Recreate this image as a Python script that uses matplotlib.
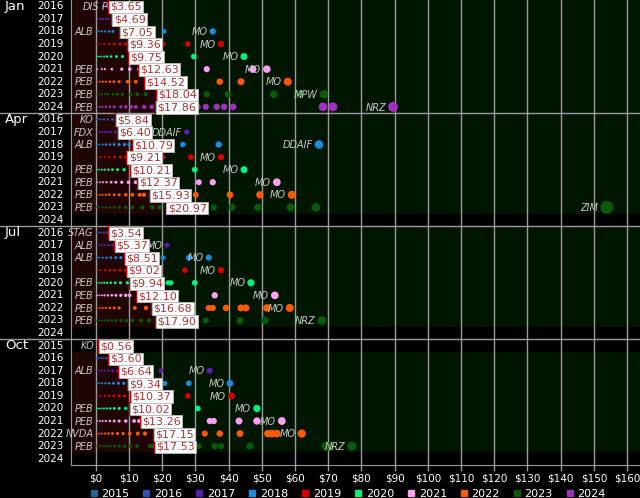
import matplotlib
matplotlib.use("Agg")
import matplotlib.pyplot as plt
from matplotlib import transforms
from matplotlib.lines import Line2D

# rows, top to bottom: (quarter, year)
row_quarter = (["Jan"] * 9) + (["Apr"] * 9) + (["Jul"] * 9) + (["Oct"] * 10)
row_year = [2016, 2017, 2018, 2019, 2020, 2021, 2022, 2023, 2024,
            2016, 2017, 2018, 2019, 2020, 2021, 2022, 2023, 2024,
            2016, 2017, 2018, 2019, 2020, 2021, 2022, 2023, 2024,
            2015, 2016, 2017, 2018, 2019, 2020, 2021, 2022, 2023, 2024]

# average dividend shown in the white box (None = no data)
totals = [3.65, 4.69, 7.05, 9.36, 9.75, 12.63, 14.52, 18.04, 17.86,
          5.84, 6.40, 10.79, 9.21, 10.21, 12.37, 15.93, 20.97, None,
          3.54, 5.37, 8.51, 9.02, 9.94, 12.10, 16.68, 17.90, None,
          0.56, 3.60, 6.64, 9.34, 10.37, 10.02, 13.26, 17.15, 17.53, None]

low_tickers = ["DIS", "", "ALB", "", "", "PEB", "PEB", "PEB", "PEB",
               "KO", "FDX", "ALB", "", "PEB", "PEB", "PEB", "PEB", "",
               "STAG", "ALB", "ALB", "", "PEB", "PEB", "PEB", "PEB", "",
               "KO", "", "ALB", "", "", "PEB", "PEB", "NVDA", "PEB", ""]

high_tickers = ["PG", "", "MO", "MO", "MO", "MO", "MO", "MPW", "NRZ",
                "", "DDAIF", "DDAIF", "MO", "MO", "MO", "MO", "ZIM", "",
                "", "MO", "MO", "MO", "MO", "MO", "MO", "NRZ", "",
                "", "", "MO", "MO", "MO", "MO", "MO", "MO", "NRZ", ""]

# dividend received per holding, one list per row
dividends = [
    [2.1, 3.0, 4.2, 5.5, 6.8],
    [0.5, 1.0, 1.6, 2.2, 3.0, 3.8, 5.0, 7.0, 9.0, 12.4, 13.6],
    [0.3, 1.0, 1.8, 2.8, 4.0, 5.1, 9.0, 17.2, 20.5, 35.2],
    [0.4, 1.2, 2.5, 4.0, 5.5, 7.2, 9.0, 12.0, 18.4, 20.2, 27.7, 37.7],
    [0.3, 0.9, 1.6, 2.5, 3.4, 4.6, 6.2, 8.0, 10.5, 13.0, 16.9, 18.7, 29.5, 44.6],
    [0.4, 1.8, 2.7, 4.8, 7.8, 10.2, 13.0, 16.0, 20.8, 24.1, 24.7, 33.4, 47.3, 51.5],
    [0.3, 1.2, 2.1, 3.0, 4.2, 5.4, 7.0, 9.5, 12.0, 16.0, 23.2, 25.0, 37.3, 43.7, 57.8],
    [0.3, 1.0, 1.8, 2.8, 3.6, 5.2, 6.5, 8.0, 10.5, 12.5, 15.0, 25.9, 28.6, 33.4,
     39.8, 53.6, 61.4, 68.7],
    [0.4, 1.2, 2.0, 3.0, 4.2, 5.5, 7.5, 9.0, 10.6, 12.0, 14.5, 16.8, 29.2, 30.7,
     33.1, 36.4, 38.6, 41.3, 68.4, 71.4, 89.5],
    [0.3, 0.8, 1.5, 2.4, 3.5, 5.0, 7.5],
    [0.4, 1.0, 1.8, 2.6, 3.5, 4.5, 5.8, 8.0, 15.7, 16.6, 27.4],
    [0.3, 1.0, 2.0, 3.0, 4.2, 5.5, 7.0, 8.6, 10.0, 14.0, 26.2, 37.0, 67.2],
    [0.5, 1.5, 2.8, 4.0, 5.6, 7.4, 9.0, 12.0, 20.2, 28.6, 37.7],
    [0.3, 1.0, 1.8, 2.7, 3.8, 5.0, 6.5, 8.5, 11.0, 14.0, 18.4, 21.7, 29.8, 44.6],
    [0.4, 1.3, 2.2, 3.2, 4.6, 6.0, 7.8, 9.8, 12.0, 16.0, 21.4, 22.3, 22.9, 31.0,
     35.2, 54.5],
    [0.3, 1.2, 2.0, 3.0, 4.0, 5.5, 7.0, 9.0, 11.0, 13.2, 14.5, 25.6, 26.8, 27.7,
     30.1, 40.4, 49.4, 59.0],
    [0.3, 1.0, 2.0, 3.0, 4.2, 5.5, 7.0, 9.0, 11.0, 14.0, 17.0, 19.2, 35.5, 41.0,
     48.8, 58.7, 66.3, 153.9],
    [],
    [0.3, 0.8, 1.5, 2.4, 3.4, 4.6, 6.2, 8.0, 11.1],
    [0.4, 1.0, 1.8, 2.7, 3.8, 5.0, 7.0, 16.3, 21.4],
    [0.3, 1.0, 2.0, 3.2, 4.5, 6.0, 7.5, 10.5, 16.6, 20.2, 28.0, 34.0],
    [0.5, 1.5, 2.8, 4.2, 5.6, 7.2, 9.0, 12.5, 17.8, 19.3, 26.8, 37.7],
    [0.3, 1.0, 1.7, 2.5, 3.4, 4.5, 5.8, 7.4, 9.5, 12.5, 16.3, 21.7, 22.6, 29.8, 46.7],
    [0.3, 1.0, 1.8, 2.6, 3.6, 4.8, 6.0, 7.5, 9.0, 10.2, 14.0, 20.8, 22.0, 22.9,
     23.8, 35.8, 53.9],
    [0.3, 1.1, 2.0, 3.0, 4.2, 5.5, 7.0, 11.7, 15.1, 25.0, 29.2, 34.0, 35.2, 39.2,
     43.7, 45.2, 51.5, 58.4],
    [0.3, 1.0, 1.8, 2.7, 3.6, 4.8, 6.0, 7.6, 9.2, 11.0, 13.6, 16.0, 19.3, 29.8,
     33.1, 43.4, 50.9, 68.1],
    [],
    [0.56],
    [0.3, 0.8, 1.5, 2.3, 3.2, 4.4, 5.8, 7.5, 11.1],
    [0.4, 1.0, 1.8, 2.7, 3.8, 5.0, 6.5, 8.5, 15.7, 19.6, 34.3],
    [0.3, 1.0, 1.9, 2.9, 4.0, 5.3, 6.8, 8.4, 12.0, 20.2, 20.8, 28.0, 40.4],
    [0.5, 1.5, 2.8, 4.0, 5.4, 7.0, 8.6, 11.5, 14.5, 19.0, 27.7, 40.9],
    [0.3, 0.9, 1.6, 2.4, 3.3, 4.3, 5.5, 7.0, 9.0, 11.8, 14.0, 18.9, 21.9, 30.7, 48.5],
    [0.4, 1.2, 2.0, 3.0, 4.2, 5.5, 7.0, 9.0, 11.5, 13.0, 21.4, 24.4, 34.3, 35.5,
     43.1, 48.5, 56.0],
    [0.3, 1.0, 1.8, 2.8, 3.8, 5.0, 6.5, 8.2, 10.2, 12.6, 14.8, 26.5, 32.8, 37.3,
     43.4, 51.8, 53.0, 54.5, 62.0],
    [0.3, 1.0, 1.7, 2.5, 3.4, 4.4, 5.6, 7.0, 8.6, 10.4, 12.4, 16.3, 17.2, 25.9,
     27.7, 29.5, 31.0, 35.8, 37.7, 46.4, 69.3, 70.5, 77.1],
    [],
]

legend_years = [2015, 2016, 2017, 2018, 2019, 2020, 2021, 2022, 2023, 2024]
year_colors = ["#23639c", "#3250b4", "#5a1ea0", "#1a8ce0", "#d40000",
               "#00f07a", "#ffa0f0", "#ff5a00", "#0a5a0a", "#a030c0"]
color_of = dict(zip(legend_years, year_colors))

XMIN, XMAX = -7.5, 163.9
n_rows = len(row_year)

fig = plt.figure(figsize=(6.4, 4.98), dpi=100, facecolor="black")
ax = fig.add_axes([71 / 640, 33 / 498, 569 / 640, 465 / 498])
ax.set_facecolor("black")
ax.set_xlim(XMIN, XMAX)
ax.set_ylim(n_rows, 0)

for i in range(n_rows):
    y = i + 0.5
    tot = totals[i]
    vals = dividends[i]
    # red band below the average, green band above
    if tot is not None and len(vals) > 1:
        ax.barh(y, tot - XMIN, left=XMIN, height=1.0, color="#200505", zorder=0)
        ax.barh(y, XMAX - tot, left=tot, height=1.0, color="#001500", zorder=0)

for v in range(0, 170, 10):
    ax.axvline(v, color="#9a9a9a", lw=1, zorder=1)

blend = transforms.blended_transform_factory(fig.transFigure, ax.transData)
for b in [9, 18, 27]:
    ax.plot([0, 1], [b, b], transform=blend, color="#9a9a9a", lw=1,
            clip_on=False, zorder=2)

for i in range(n_rows):
    y = i + 0.5
    vals = dividends[i]
    col = color_of[row_year[i]]
    if vals:
        sizes = [0.55 * v + 1.2 for v in vals]
        ax.scatter(vals, [y] * len(vals), s=sizes, color=col, lw=0, zorder=3)
        if low_tickers[i]:
            ax.annotate(low_tickers[i], (min(vals), y), xytext=(-2.5, -0.5),
                        textcoords="offset points", ha="right", va="center",
                        fontsize=7, style="italic", color="#c8c8c8", zorder=4)
        if high_tickers[i]:
            r = (0.55 * max(vals) + 1.2) ** 0.5 / 2
            ax.annotate(high_tickers[i], (max(vals), y), xytext=(-(r + 1.5), -0.5),
                        textcoords="offset points", ha="right", va="center",
                        fontsize=7, style="italic", color="#c8c8c8", zorder=4)
    tot = totals[i]
    if tot is not None:
        ax.plot([tot, tot], [i, i + 1], color="#c00000", lw=1, zorder=5)
        ax.annotate(f"${tot:.2f}", (tot, y), xytext=(1.6, -0.5),
                    textcoords="offset points", ha="left", va="center",
                    fontsize=8, color="#a03838", zorder=6,
                    bbox=dict(boxstyle="square,pad=0.12", fc="white",
                              ec="#bbbbbb", lw=0.6))

# left header: quarter and year labels
prev_q = None
for i in range(n_rows):
    y = i + 0.5
    if row_quarter[i] != prev_q:
        ax.text(5 / 640, y, row_quarter[i], transform=blend, ha="left",
                va="center", fontsize=9.5, color="white")
        prev_q = row_quarter[i]
    ax.text(37 / 640, y, str(row_year[i]), transform=blend, ha="left",
            va="center", fontsize=7.5, color="white")

ax.set_xticks(range(0, 170, 10))
ax.set_xticklabels([f"${v}" for v in range(0, 170, 10)])
ax.tick_params(axis="x", colors="#9a9a9a", labelcolor="white", labelsize=7.5,
               length=4, width=1, pad=2)
ax.set_yticks([])
for side in ["top", "right"]:
    ax.spines[side].set_visible(False)
ax.spines["left"].set_color("#9a9a9a")
ax.spines["bottom"].set_color("#9a9a9a")

handles = [Line2D([], [], marker="s", ls="", color=c, markersize=4.5)
           for c in year_colors]
fig.legend(handles, [str(y) for y in legend_years], loc="lower center",
           bbox_to_anchor=(0.543, -0.022), ncol=10, frameon=False,
           labelcolor="white", fontsize=8, handletextpad=0.3,
           columnspacing=1.12, handlelength=0.8)

fig.savefig("out.png", dpi=100, facecolor="black")
